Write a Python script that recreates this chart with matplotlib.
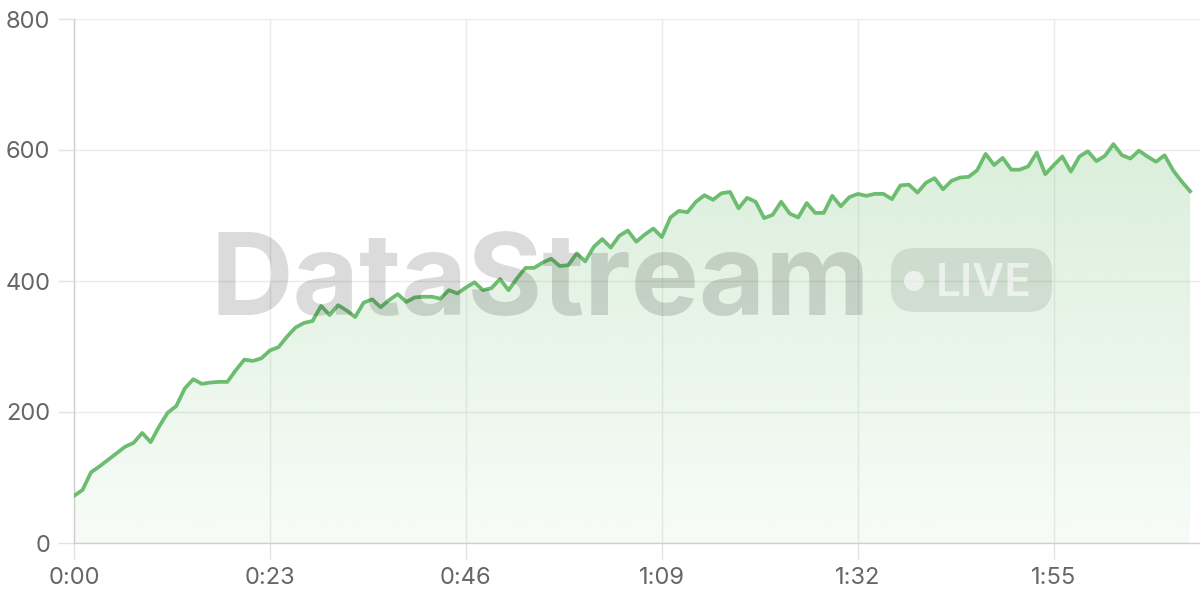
import numpy as np
import matplotlib
matplotlib.use("Agg")
import matplotlib.pyplot as plt
from matplotlib.patches import FancyBboxPatch, Circle
from matplotlib.transforms import IdentityTransform

# ---- data ----
values = [72, 81, 108, 117, 127, 137, 147, 153, 168, 154,
          178, 199, 209, 236, 250, 243, 245, 246, 246, 264,
          280, 278, 282, 294, 299, 315, 329, 336, 339, 362,
          348, 363, 355, 345, 367, 372, 360, 371, 380, 368,
          375, 376, 376, 373, 386, 381, 390, 398, 386, 389,
          403, 386, 404, 420, 420, 428, 434, 423, 424, 442,
          430, 452, 464, 451, 469, 477, 460, 471, 480, 467,
          497, 507, 505, 521, 531, 524, 534, 536, 511, 527,
          521, 496, 501, 521, 503, 497, 519, 504, 504, 530,
          514, 528, 533, 530, 533, 533, 525, 546, 547, 535,
          550, 557, 540, 553, 558, 559, 569, 594, 577, 588,
          570, 570, 575, 596, 563, 577, 590, 567, 590, 598,
          583, 591, 609, 592, 587, 599, 590, 582, 592, 569,
          552, 537]
x_tick_positions = [0, 23, 46, 69, 92, 115]
x_tick_labels = ["0:00", "0:23", "0:46", "1:09", "1:32", "1:55"]
y_ticks = [0, 200, 400, 600, 800]

plt.rcParams['font.family'] = ['Inter', 'DejaVu Sans']

W, H = 1200, 600
fig = plt.figure(figsize=(W / 100, H / 100), dpi=100)
ax = fig.add_axes([74 / W, 1 - 543 / H, (W - 74) / W, (543 - 19) / H])

xs = np.arange(len(values))
green = '#6cbd70'

# gradient fill under the line
fill = ax.fill_between(xs, values, 0, color='none', lw=0)
n = 256
alpha = np.linspace(0.05, 0.30, n)
rgb = matplotlib.colors.to_rgb('#66bb6a')
grad = np.zeros((n, 1, 4))
grad[:, 0, 0] = rgb[0]
grad[:, 0, 1] = rgb[1]
grad[:, 0, 2] = rgb[2]
grad[:, 0, 3] = alpha
im = ax.imshow(grad, extent=[0, len(values) - 1, 0, 800], origin='lower',
               aspect='auto', zorder=2, interpolation='bilinear')
im.set_clip_path(fill.get_paths()[0], transform=ax.transData)

ax.plot(xs, values, color=green, lw=2.7, solid_joinstyle='round', zorder=3)

ax.set_xlim(0, (W - 74) / 8.52)
ax.set_ylim(0, 800)
ax.set_xticks(x_tick_positions)
ax.set_xticklabels(x_tick_labels)
ax.set_yticks(y_ticks)
ax.grid(True, color='#ebebeb', lw=1)
ax.set_axisbelow(True)
for s in ['top', 'right']:
    ax.spines[s].set_visible(False)
for s in ['left', 'bottom']:
    ax.spines[s].set_color('#cfcfcf')
    ax.spines[s].set_linewidth(1)
ax.tick_params(axis='both', length=11.5, width=1, color='#e3e3e3',
               labelcolor='#666666', labelsize=17)
ax.tick_params(axis='y', pad=5.5)
ax.tick_params(axis='x', pad=6)

# watermark
wm = fig.text(210 / W, 1 - 315 / H, "DataStream", fontsize=86, fontweight='bold',
              color='black', alpha=0.14, ha='left', va='baseline', zorder=10)
fig.canvas.draw()
r = fig.canvas.get_renderer()
bb = wm.get_window_extent(r)
wm.set_fontsize(86 * 660 / bb.width)

pill = FancyBboxPatch((891, H - 312), 161, 64,
                      boxstyle="round,pad=0,rounding_size=24",
                      transform=IdentityTransform(), facecolor='black',
                      alpha=0.09, edgecolor='none', zorder=10)
fig.add_artist(pill)
dot = Circle((914, H - 281), 10, transform=IdentityTransform(),
             facecolor='white', alpha=0.6, edgecolor='none', zorder=11)
fig.add_artist(dot)
live = fig.text(936 / W, 1 - 296 / H, "LIVE", fontsize=32, fontweight='semibold',
                color='white', alpha=0.6, ha='left', va='baseline', zorder=11)
fig.canvas.draw()
bb2 = live.get_window_extent(fig.canvas.get_renderer())
live.set_fontsize(32 * 96 / bb2.width)

fig.savefig('out.png', dpi=100)
